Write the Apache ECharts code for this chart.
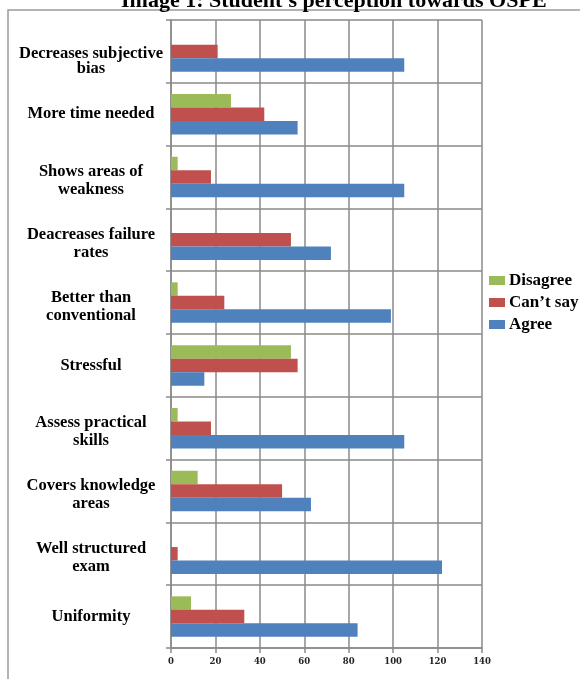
<!DOCTYPE html>
<html><head><meta charset="utf-8">
<script src="https://cdn.jsdelivr.net/npm/echarts@6/dist/echarts.min.js"></script>
<style>html,body{margin:0;padding:0;background:#fff}#c{width:580px;height:679px}</style>
</head><body><div id="c"></div>
<script>
const categories = ["Uniformity","Well structured\nexam","Covers knowledge\nareas","Assess practical\nskills","Stressful","Better than\nconventional","Deacreases failure\nrates","Shows areas of\nweakness","More time needed","Decreases subjective\nbias"];
const agree    = [84, 122, 63, 105, 15, 99, 72, 105, 57, 105];
const cantSay  = [33, 3, 50, 18, 57, 24, 54, 18, 42, 21];
const disagree = [9, 0, 12, 3, 54, 3, 0, 3, 27, 0];
const xTicks = [0, 20, 40, 60, 80, 100, 120, 140];

const serif = '"Liberation Serif","Times New Roman",serif';
const gridColor = '#8a8a8a';
const font = {fontFamily: serif, fontWeight: 'bold', fontSize: 16.5, color: '#000', align: 'center'};
const rich = {
  s:  Object.assign({}, font, {lineHeight: 18}),
  a1: Object.assign({}, font, {lineHeight: 26, verticalAlign: 'bottom'}),
  a2: Object.assign({}, font, {lineHeight: 19.5}),
  b1: Object.assign({}, font, {lineHeight: 34, verticalAlign: 'bottom'}),
  b2: Object.assign({}, font, {lineHeight: 13})
};
function fmtLabel(v, idx) {
  const lines = String(v).split('\n');
  if (lines.length === 1) return '{s|' + lines[0] + '}';
  const k = idx === categories.length - 1 ? 'b' : 'a';
  return '{' + k + '1|' + lines[0] + '}\n{' + k + '2|' + lines[1] + '}';
}
const chart = echarts.init(document.getElementById('c'));
chart.setOption({
  animation: false,
  title: {
    text: "Image 1: Student's perception towards OSPE",
    left: 116, top: -15,
    textStyle: {fontFamily: serif, fontWeight: 'bold', fontSize: 22, color: '#000'}
  },
  graphic: [{
    type: 'rect', shape: {x: 8, y: 10, width: 620, height: 720},
    style: {fill: 'none', stroke: '#9a9a9a', lineWidth: 1.5}, silent: true
  }],
  legend: {
    orient: 'vertical', left: 489, top: 272, padding: 0,
    data: ['Disagree', "Can\u2019t say", 'Agree'],
    itemWidth: 16, itemHeight: 9, itemGap: 5,
    icon: 'rect',
    textStyle: {fontFamily: serif, fontWeight: 'bold', fontSize: 17, color: '#000', padding: [0,0,0,-1]}
  },
  grid: {left: 171, right: 98, top: 20, bottom: 31, containLabel: false, outerBoundsMode: 'none'},
  xAxis: {
    type: 'value', min: 0, max: 140, interval: 20,
    axisLine: {show: true, lineStyle: {color: gridColor, width: 1.5}},
    axisTick: {show: true, length: 5, lineStyle: {color: gridColor, width: 1.5}},
    splitLine: {show: true, lineStyle: {color: gridColor, width: 1.5}},
    axisLabel: {
      fontFamily: '"DejaVu Serif",serif', fontWeight: 'bold', fontSize: 8.5, color: '#222', margin: 9,
      formatter: v => xTicks.includes(v) ? String(v) : ''
    }
  },
  yAxis: {
    type: 'category', data: categories,
    axisLine: {show: true, lineStyle: {color: gridColor, width: 1.5}},
    axisTick: {show: true, length: 5, lineStyle: {color: gridColor, width: 1.5}},
    splitLine: {show: true, lineStyle: {color: gridColor, width: 1.5}},
    axisLabel: Object.assign({}, font, {margin: 80, lineHeight: 18, formatter: fmtLabel, rich: rich})
  },
  series: [
    {name: 'Disagree', type: 'bar', data: disagree, barWidth: 13.5, barGap: '0%', itemStyle: {color: '#9BBB59'}},
    {name: "Can\u2019t say", type: 'bar', data: cantSay, barWidth: 13.5, barGap: '0%', itemStyle: {color: '#C0504D'}},
    {name: 'Agree', type: 'bar', data: agree, barWidth: 13.5, barGap: '0%', itemStyle: {color: '#4F81BD'}}
  ]
});
</script></body></html>
